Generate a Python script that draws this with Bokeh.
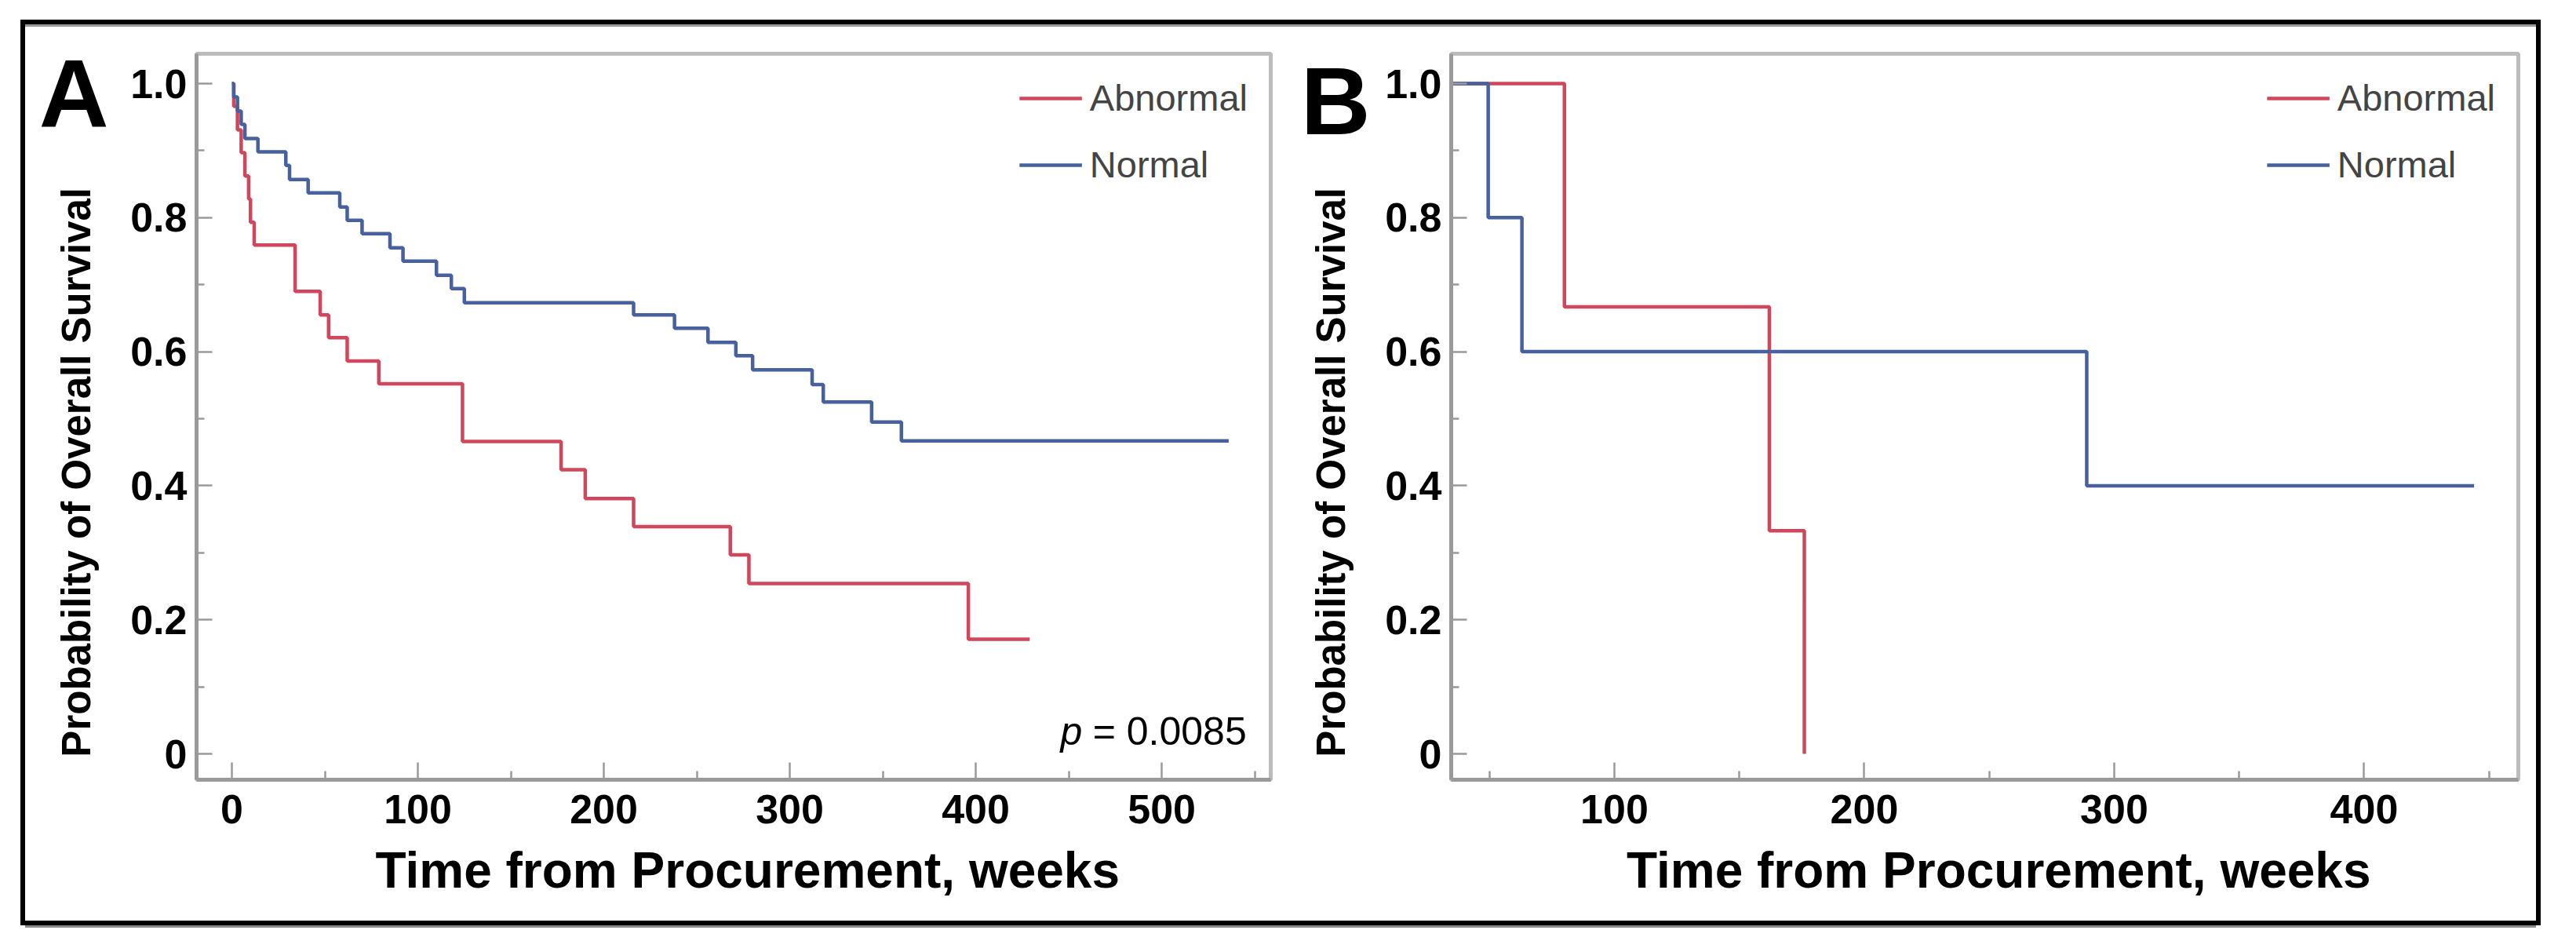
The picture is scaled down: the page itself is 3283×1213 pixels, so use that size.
import math
from bokeh.plotting import figure
from bokeh.models import FixedTicker, Label, Legend, LegendItem, Range1d, LinearAxis
from bokeh.layouts import row
from bokeh.embed import file_html
from bokeh.resources import INLINE

FONT = "Liberation Sans"
RED = "#d0475b"
BLUE = "#47609e"
AXIS_GRAY = "#9a9a9a"

# ---------------- data (Kaplan-Meier steps, weeks / survival) ----------------
a_abn_weeks = [0, 1, 3, 5, 7, 9, 10, 12, 34, 47.5, 52, 62, 79, 124, 177, 190, 216, 268, 278, 396, 429]
a_abn_surv = [1.0, 0.966, 0.931, 0.897, 0.862, 0.828, 0.793, 0.759, 0.690, 0.655, 0.621, 0.586,
              0.552, 0.466, 0.424, 0.381, 0.339, 0.297, 0.254, 0.171, 0.171]

a_norm_weeks = [0, 1, 3, 5, 7, 14, 29, 31, 41, 58, 62, 70, 85, 92, 110, 118, 125, 216, 238, 256,
                271, 280, 312, 318, 344, 360, 536]
a_norm_surv = [1.0, 0.980, 0.959, 0.939, 0.918, 0.898, 0.878, 0.857, 0.837, 0.816, 0.796, 0.776,
               0.755, 0.735, 0.714, 0.694, 0.673, 0.655, 0.635, 0.614, 0.594, 0.573, 0.551, 0.525,
               0.495, 0.467, 0.467]

b_abn_weeks = [0, 80, 162, 176]
b_abn_surv = [1.0, 0.667, 0.333, 0.0]

b_norm_weeks = [0, 49.5, 63, 289, 444]
b_norm_surv = [1.0, 0.8, 0.6, 0.4, 0.4]

series_labels = ["Abnormal", "Normal"]
y_tick_values = [0, 0.2, 0.4, 0.6, 0.8, 1]
y_tick_labels = ["0", "0.2", "0.4", "0.6", "0.8", "1.0"]
y_minor_ticks = [0.1, 0.3, 0.5, 0.7, 0.9]
a_x_ticks = [0, 100, 200, 300, 400, 500]
a_x_minor = [50, 150, 250, 350, 450, 550]
b_x_ticks = [100, 200, 300, 400]
b_x_minor = [50, 150, 250, 350, 450]
y_title = "Probability of Overall Survival"
x_title = "Time from Procurement, weeks"
p_symbol = "p"
p_value_text = "= 0.0085"
panel_letters = ["A", "B"]
letter_levels = [0.985, 0.974]

Y_RANGE = (-0.0386, 1.0445)
NBSP = "\u00a0"


def make_panel(width, mb_left, mb_right, x_range, x_ticks, x_minor, abn, norm,
               letter, letter_level, letter_standoff):
    p = figure(width=width, height=1142, x_range=Range1d(*x_range), y_range=Range1d(*Y_RANGE),
               output_backend="svg", toolbar_location=None,
               min_border_left=mb_left, min_border_right=mb_right,
               min_border_top=37, min_border_bottom=180)
    p.border_fill_color = None
    p.background_fill_color = "white"
    p.outline_line_color = "#bcbcbc"
    p.outline_line_width = 5
    p.xgrid.visible = False
    p.ygrid.visible = False

    r_abn = p.step(abn[0], abn[1], mode="after", line_color=RED, line_width=4.5)
    r_norm = p.step(norm[0], norm[1], mode="after", line_color=BLUE, line_width=4.5)

    xa = p.xaxis[0]
    xa.ticker = FixedTicker(ticks=x_ticks, minor_ticks=x_minor)
    ya = p.yaxis[0]
    ya.ticker = FixedTicker(ticks=y_tick_values, minor_ticks=y_minor_ticks)
    ya.major_label_overrides = dict(zip(y_tick_values, y_tick_labels))
    for ax in (xa, ya):
        ax.major_label_text_font = FONT
        ax.major_label_text_font_style = "bold"
        ax.major_label_text_font_size = "52px"
        ax.major_label_text_color = "black"
        ax.major_tick_out = 0
        ax.minor_tick_out = 0
        ax.major_tick_line_color = AXIS_GRAY
        ax.minor_tick_line_color = AXIS_GRAY
        ax.major_tick_line_width = 2.5
        ax.minor_tick_line_width = 2.5
        ax.axis_line_color = AXIS_GRAY
        ax.axis_line_width = 5
        ax.major_label_standoff = 12
        ax.axis_label_text_font = FONT
        ax.axis_label_text_font_style = "bold"
        ax.axis_label_text_color = "black"
    xa.major_tick_in = 22
    xa.minor_tick_in = 11
    ya.major_tick_in = 20
    ya.minor_tick_in = 10
    xa.major_label_standoff = 19

    # leading no-break spaces nudge the title slightly right of the frame centre
    xa.axis_label = NBSP * 2 + x_title
    xa.axis_label_text_font_size = "64px"
    xa.axis_label_standoff = 21

    # y title: trailing no-break spaces move the visible words below the frame centre,
    # as in the original figure
    ya.axis_label = y_title + NBSP * 10
    ya.axis_label_text_font_size = "51px"
    ya.axis_label_standoff = 37

    # big panel letter as the only tick label of an extra, otherwise invisible, left axis
    letter_axis = LinearAxis(ticker=FixedTicker(ticks=[letter_level], minor_ticks=[]),
                             major_label_overrides={letter_level: letter},
                             axis_line_color=None, major_tick_line_color=None,
                             minor_tick_line_color=None, major_tick_in=0, major_tick_out=0,
                             minor_tick_in=0, minor_tick_out=0,
                             major_label_standoff=letter_standoff,
                             major_label_text_font=FONT, major_label_text_font_style="bold",
                             major_label_text_font_size="123px", major_label_text_color="black")
    p.add_layout(letter_axis, "left")

    legend = Legend(items=[LegendItem(label=series_labels[0], renderers=[r_abn]),
                           LegendItem(label=series_labels[1], renderers=[r_norm])],
                    location="top_right", border_line_color=None, background_fill_alpha=0,
                    label_text_font=FONT, label_text_font_size="47px",
                    glyph_width=80, glyph_height=30, label_height=30, spacing=30,
                    label_standoff=10, margin=29, padding=0)
    p.add_layout(legend)
    return p


p1 = make_panel(1608, 218, 21, (-19.0, 558.6), a_x_ticks, a_x_minor,
                (a_abn_weeks, a_abn_surv), (a_norm_weeks, a_norm_surv),
                panel_letters[0], letter_levels[0], -72)
p1.add_layout(Label(x=445.5, y=0.0331, text=p_symbol, text_font=FONT, text_font_style="italic",
                    text_font_size="50px", text_align="left", text_baseline="alphabetic",
                    text_color="black"))
p1.add_layout(Label(x=545.6, y=0.0331, text=p_value_text, text_font=FONT,
                    text_font_size="50px", text_align="right", text_baseline="alphabetic",
                    text_color="black"))

p2 = make_panel(1592, 209, 23, (34.7, 461.7), b_x_ticks, b_x_minor,
                (b_abn_weeks, b_abn_surv), (b_norm_weeks, b_norm_surv),
                panel_letters[1], letter_levels[1], -81)

layout = row(p1, p2, margin=(31, 0, 0, 32),
             styles={"outline": "6px solid black",
                     "box-shadow": "0 9px 0 0 #8a8a8a, inset 0 3px 0 0 #9a9a9a"})

open("out.html", "w").write(file_html(layout, INLINE))
